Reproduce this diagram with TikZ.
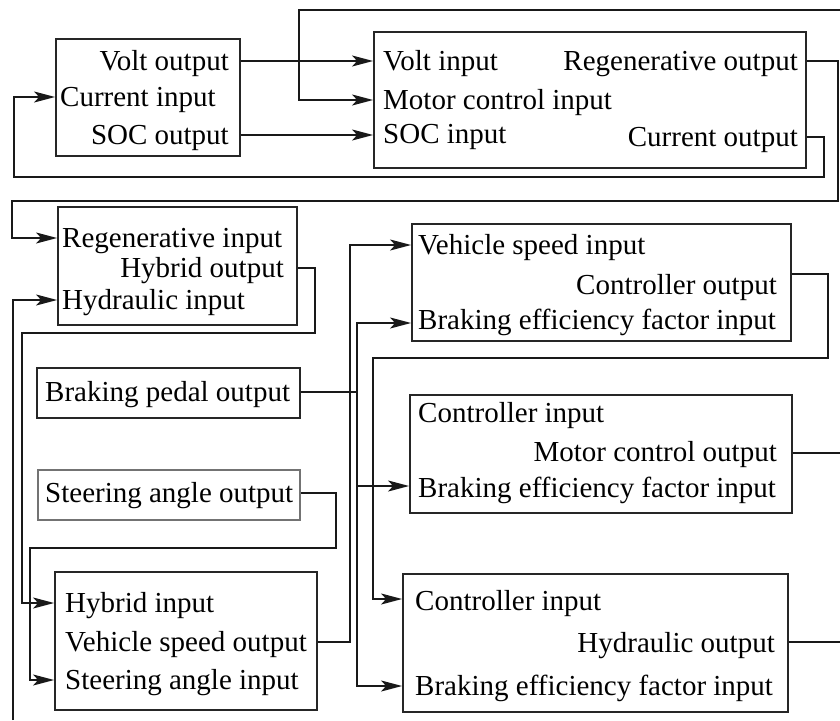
\documentclass[tikz,border=0pt]{standalone}
\usepackage{fontspec}
\setmainfont{Liberation Serif}
\usetikzlibrary{arrows.meta}
\begin{document}
\begin{tikzpicture}[x=1pt,y=-1pt,
  box/.style={draw=black!85,line width=1.8pt,inner sep=0pt,rectangle},
  lbox/.style={draw=black!55,line width=1.2pt,inner sep=0pt,rectangle},
  lbl/.style={inner sep=0pt,font=\fontsize{29}{32}\selectfont,text height=23pt,text depth=5pt},
  wire/.style={draw=black!90,line width=1.6pt},
  arr/.style={wire,-{Stealth[length=21pt,width=11pt,inset=5pt]}}]
\useasboundingbox (0,0) rectangle (840,720);
% boxes
\node[box,minimum width=184pt,minimum height=117pt] (b1) at (148,97.5) {};
\node[box,minimum width=432pt,minimum height=136pt] (b2) at (590,100) {};
\node[box,minimum width=239pt,minimum height=118pt] (b3) at (177.5,266) {};
\node[box,minimum width=263pt,minimum height=50pt] (b4) at (168.5,393) {};
\node[box,minimum width=379pt,minimum height=117pt] (b5) at (601.5,282.5) {};
\node[box,minimum width=382pt,minimum height=118pt] (b6) at (601,454) {};
\node[box,minimum width=385pt,minimum height=138pt] (b7) at (595.5,643) {};
\node[lbox,minimum width=262pt,minimum height=50pt] (b8) at (169,495) {};
\node[box,minimum width=262pt,minimum height=138pt] (b9) at (186,641) {};
% labels
\node[lbl,anchor=east] (t1a) at (229,61) {Volt output};
\node[lbl,anchor=west] (t1b) at (60,97) {Current input};
\node[lbl,anchor=east] (t1c) at (229,135) {SOC output};
\node[lbl,anchor=west] (t2a) at (383,61) {Volt input};
\node[lbl,anchor=west] (t2b) at (383,100) {Motor control input};
\node[lbl,anchor=west] (t2c) at (383,134) {SOC input};
\node[lbl,anchor=east] (t2d) at (798,61) {Regenerative output};
\node[lbl,anchor=east] (t2e) at (798,137) {Current output};
\node[lbl,anchor=west] (t3a) at (62,238) {Regenerative input};
\node[lbl,anchor=east] (t3b) at (284,268) {Hybrid output};
\node[lbl,anchor=west] (t3c) at (62,300) {Hydraulic input};
\node[lbl,anchor=west] (t4a) at (45,392) {Braking pedal output};
\node[lbl,anchor=west] (t5a) at (418,245) {Vehicle speed input};
\node[lbl,anchor=east] (t5b) at (777,285) {Controller output};
\node[lbl,anchor=west] (t5c) at (418,320) {Braking efficiency factor input};
\node[lbl,anchor=west] (t6a) at (418,413) {Controller input};
\node[lbl,anchor=east] (t6b) at (777,452) {Motor control output};
\node[lbl,anchor=west] (t6c) at (418,488) {Braking efficiency factor input};
\node[lbl,anchor=west] (t7a) at (415,601) {Controller input};
\node[lbl,anchor=east] (t7b) at (775,643) {Hydraulic output};
\node[lbl,anchor=west] (t7c) at (415,686) {Braking efficiency factor input};
\node[lbl,anchor=west] (t8a) at (45,493) {Steering angle output};
\node[lbl,anchor=west] (t9a) at (65,603) {Hybrid input};
\node[lbl,anchor=west] (t9b) at (65,642) {Vehicle speed output};
\node[lbl,anchor=west] (t9c) at (65,680) {Steering angle input};
% free ends
\coordinate (e1) at (840,10);
\coordinate (e2) at (13,720);
\coordinate (e3) at (840,453);
\coordinate (e4) at (840,642);
% connectors
\draw[arr] (b1.east |- 0,61) -- (b2.west |- 0,61);
\draw[arr] (e1) -- (299,10) -- (299,100) -- (b2.west |- 0,100);
\draw[arr] (b1.east |- 0,135) -- (b2.west |- 0,135);
\draw[arr] (b2.east |- 0,137) -- (824,137) -- (824,177) -- (14,177) -- (14,97) -- (b1.west |- 0,97);
\draw[arr] (b2.east |- 0,61) -- (838,61) -- (838,201) -- (12,201) -- (12,238) -- (b3.west |- 0,238);
\draw[arr] (b3.east |- 0,268) -- (315,268) -- (315,333) -- (22,333) -- (22,603) -- (b9.west |- 0,603);
\draw[arr] (e2) -- (13,300) -- (b3.west |- 0,300);
\draw[wire] (b4.east |- 0,392) -- (357,392);
\draw[arr] (357,392) -- (357,323) -- (b5.west |- 0,323);
\draw[arr] (357,392) -- (357,486) -- (b6.west |- 0,486);
\draw[arr] (357,486) -- (357,686) -- (b7.west |- 0,686);
\draw[arr] (b9.east |- 0,642) -- (350,642) -- (350,245) -- (b5.west |- 0,245);
\draw[arr] (b5.east |- 0,274) -- (828,274) -- (828,358) -- (373,358) -- (373,599) -- (b7.west |- 0,599);
\draw[wire] (b6.east |- 0,453) -- (e3);
\draw[wire] (b7.east |- 0,642) -- (e4);
\draw[arr] (b8.east |- 0,493) -- (336,493) -- (336,548) -- (30,548) -- (30,680) -- (b9.west |- 0,680);
\end{tikzpicture}
\end{document}
